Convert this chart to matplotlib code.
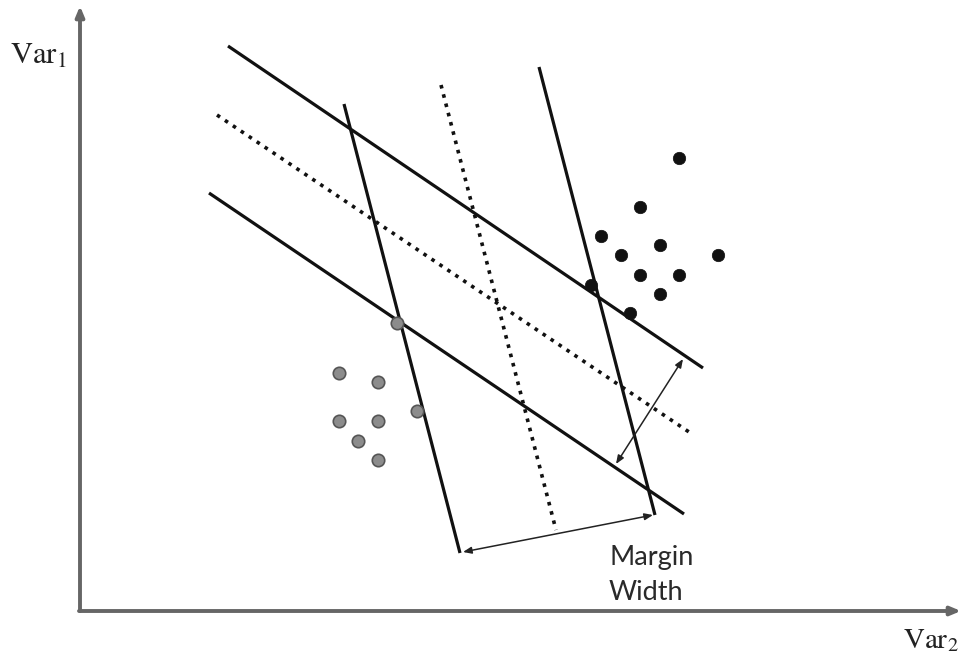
import matplotlib.pyplot as plt

plt.rcParams['mathtext.fontset'] = 'stix'

# canvas units: x to the right, y downward (0..961, 0..656)
W, H = 961, 656

# class points
grey_x = [339, 378, 339, 378, 358, 378, 417, 397]
grey_y = [373, 382, 421, 421, 441, 460, 411, 323]
black_x = [679, 640, 601, 660, 621, 718, 640, 679, 660, 591, 630]
black_y = [158, 207, 236, 245, 255, 255, 275, 275, 294, 285, 313]

# separating lines (x0, y0, x1, y1)
shallow_solid = [(228, 46, 703, 368), (209, 193, 684, 514)]
shallow_dotted = [(217, 115, 692, 434)]
steep_solid = [(344, 104, 460, 553), (539, 67, 655, 515)]
steep_dotted = [(441, 85, 556, 530)]

# margin arrows
margin_arrows = [((463, 552), (653, 515)), ((683, 359), (616, 464))]

fig = plt.figure(figsize=(W / 100, H / 100), dpi=100)
ax = fig.add_axes([0, 0, 1, 1])
ax.set_xlim(0, W)
ax.set_ylim(H, 0)
ax.axis('off')

# axes with arrow heads
axis_col = '#666666'
ax.annotate('', xy=(80, 6), xytext=(80, 611),
            arrowprops=dict(arrowstyle='-|>,head_length=0.6,head_width=0.25',
                            color=axis_col, lw=2.8, shrinkA=0, shrinkB=0))
ax.annotate('', xy=(961, 611), xytext=(79, 611),
            arrowprops=dict(arrowstyle='-|>,head_length=0.6,head_width=0.25',
                            color=axis_col, lw=2.8, shrinkA=0, shrinkB=0))

for x0, y0, x1, y1 in shallow_solid + steep_solid:
    ax.plot([x0, x1], [y0, y1], color='#111111', lw=2.3, solid_capstyle='butt')
for x0, y0, x1, y1 in shallow_dotted + steep_dotted:
    ax.plot([x0, x1], [y0, y1], color='#111111', lw=2.6, linestyle=':')

for start, end in margin_arrows:
    ax.annotate('', xy=end, xytext=start,
                arrowprops=dict(arrowstyle='<|-|>,head_length=0.5,head_width=0.2',
                                color='#222222', lw=1.1, shrinkA=0, shrinkB=0))

ax.scatter(grey_x, grey_y, s=80, color='#8c8c8c', edgecolors='#555555',
           linewidths=1.2, zorder=3)
ax.scatter(black_x, black_y, s=80, color='#111111', edgecolors='#111111',
           linewidths=0.5, zorder=3)

ax.text(10, 64, r'$\mathrm{Var}_1$', fontsize=22, color='#222222',
        ha='left', va='baseline')
ax.text(903, 648, r'$\mathrm{Var}_2$', fontsize=21, color='#222222',
        ha='left', va='baseline')
ax.text(609, 565, 'Margin', fontsize=19.5, family='Lato',
        color='#2a2a2a', ha='left', va='baseline')
ax.text(609, 600, 'Width', fontsize=19.5, family='Lato',
        color='#2a2a2a', ha='left', va='baseline')

fig.savefig('out.png', dpi=100)
